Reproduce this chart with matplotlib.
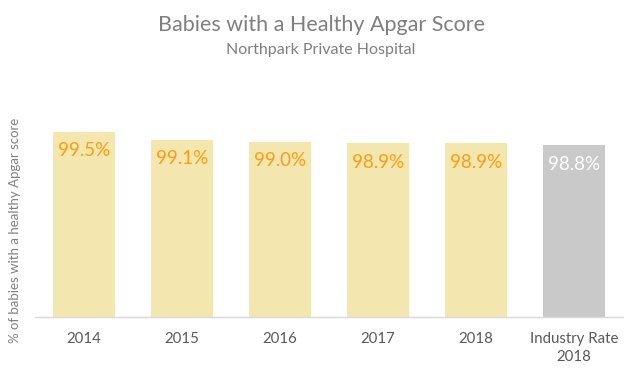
import matplotlib
matplotlib.use("Agg")
import matplotlib.pyplot as plt

categories = ["2014", "2015", "2016", "2017", "2018", "Industry Rate\n2018"]
values = [99.5, 99.1, 99.0, 98.9, 98.9, 98.8]
bar_colors = ["#F3E6AE"] * 5 + ["#C9C9C9"]
label_colors = ["#FB9E14"] * 5 + ["#FFFFFF"]

plt.rcParams['font.family'] = ['Lato', 'DejaVu Sans']

fig = plt.figure(figsize=(6.42, 3.77), dpi=100)
ax = fig.add_axes([35/642, 60/377, 588/642, 195/377])

x = list(range(len(categories)))
ax.bar(x, values, width=0.63, color=bar_colors)
ax.set_ylim(90, 100)
ax.set_xlim(-0.5, len(categories) - 0.5)

for xi, v, c in zip(x, values, label_colors):
    ax.annotate(f"{v:.1f}%", xy=(xi, v), xytext=(0, -19), textcoords="offset pixels",
                ha="center", va="center", fontsize=13.5, color=c)

ax.set_xticks(x)
ax.set_xticklabels(categories, fontsize=10.8, color="#595959", linespacing=1.3)
ax.tick_params(axis="x", length=0, pad=11)
ax.set_yticks([])
for s in ["top", "right", "left"]:
    ax.spines[s].set_visible(False)
ax.spines["bottom"].set_color("#D9D9D9")
ax.spines["bottom"].set_linewidth(1)

fig.text(15/642, 1 - 230/377, "% of babies with a healthy Apgar score", rotation=90,
         ha="center", va="center", fontsize=9.5, color="#7F7F7F")

fig.text(0.5, 1 - 25/377, "Babies with a Healthy Apgar Score", ha="center", va="center",
         fontsize=15.5, color="#7F7F7F", fontweight="normal")
fig.text(0.5, 1 - 50/377, "Northpark Private Hospital", ha="center", va="center",
         fontsize=11.5, color="#7F7F7F", fontweight="normal")

fig.savefig("out.png", dpi=100)
